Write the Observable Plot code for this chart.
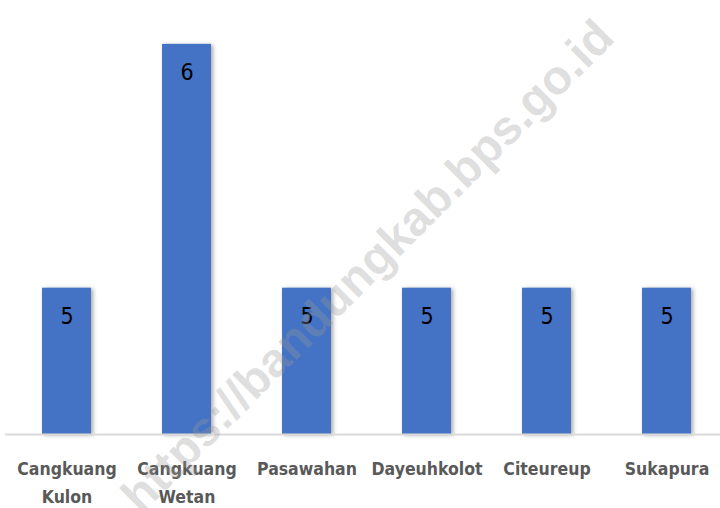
<!DOCTYPE html>
<html>
<head>
<meta charset="utf-8">
<script src="https://cdn.jsdelivr.net/npm/d3@7"></script>
<script src="https://cdn.jsdelivr.net/npm/@observablehq/plot@0.6"></script>
<style>
  html, body { margin: 0; padding: 0; background: #fff; }
  #chart svg { display: block; }
  .bars rect { filter: drop-shadow(2px 1px 2px rgba(0,0,0,0.35)); }
</style>
</head>
<body>
<div id="chart"></div>
<script>
const categories = ["Cangkuang\nKulon", "Cangkuang\nWetan", "Pasawahan", "Dayeuhkolot", "Citeureup", "Sukapura"];
const values = [5, 6, 5, 5, 5, 5];
const watermark = ["https://bandungkab.bps.go.id"];

const data = categories.map((c, i) => ({category: c, value: values[i]}));
const condensed = "'DejaVu Sans Condensed', 'Liberation Sans Narrow', sans-serif";

const chart = Plot.plot({
  width: 720,
  height: 508,
  marginLeft: 5,
  marginRight: 0,
  marginTop: 0,
  marginBottom: 74,
  style: {background: "#fff", overflow: "visible"},
  x: {domain: categories, range: [5.3, 728.3], paddingInner: 0.593, paddingOuter: 0.2965},
  y: {domain: [4.4, 6.18], clamp: true, axis: null},
  marks: [
    Plot.barY(data, {x: "category", y: "value", fill: "#4472C4", className: "bars"}),
    Plot.ruleY([4.4], {stroke: "#d9d9d9", strokeWidth: 2}),
    Plot.text(data, {
      x: "category", y: "value", text: d => String(d.value),
      dy: 28, lineAnchor: "middle", fill: "#000",
      fontSize: 23, fontFamily: condensed
    }),
    Plot.axisX({
      tickSize: 0, tickPadding: 21, lineAnchor: "top", lineHeight: 1.6,
      fontSize: 17.5, fontWeight: "bold", fill: "#595959",
      fontFamily: condensed, label: null
    }),
    Plot.text(watermark, {
      text: d => d, frameAnchor: "middle", dx: 5, dy: 49, rotate: -45,
      fontSize: 48, fontWeight: "bold", fontFamily: "'Liberation Sans', Arial, sans-serif",
      fill: "#999", fillOpacity: 0.33
    })
  ]
});
document.getElementById("chart").appendChild(chart);
</script>
</body>
</html>
